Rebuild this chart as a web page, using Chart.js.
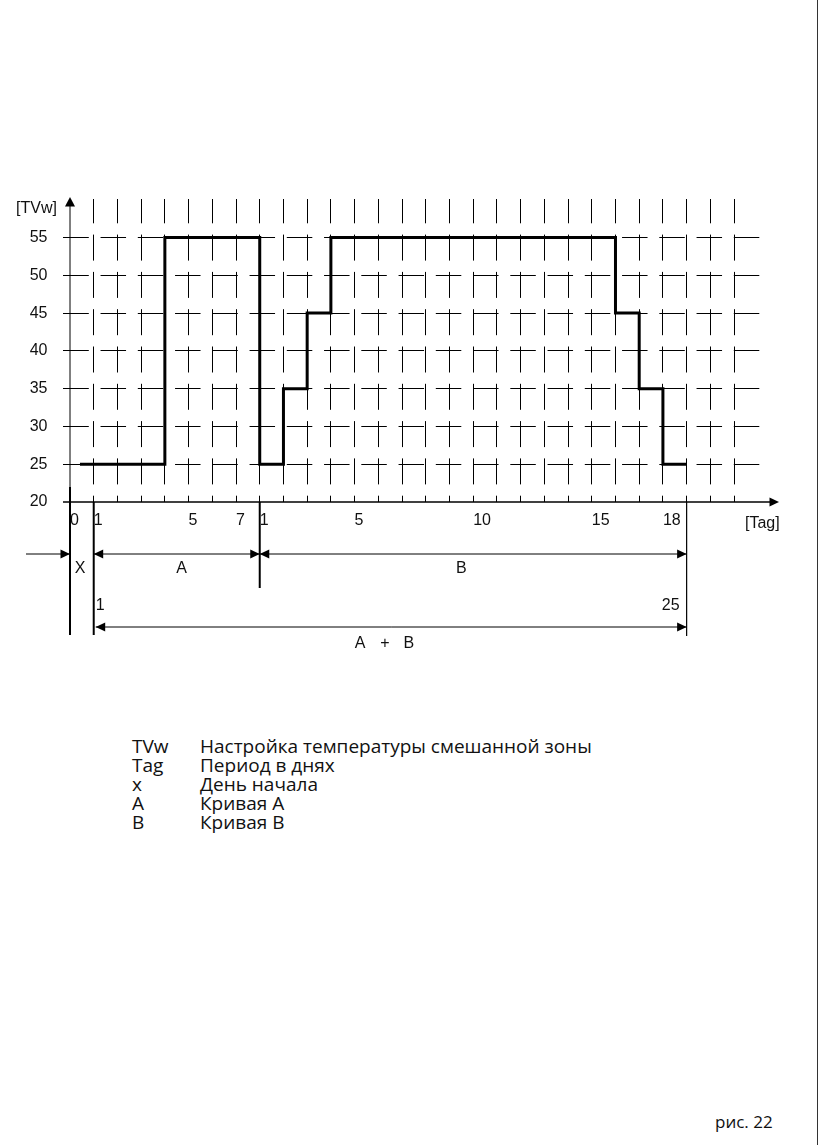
<!DOCTYPE html>
<html>
<head>
<meta charset="utf-8">
<title>рис. 22</title>
<script src="https://cdn.jsdelivr.net/npm/chart.js@4.4.1/dist/chart.umd.min.js"></script>
<style>
  html, body { margin: 0; padding: 0; background: #fff; }
  #page { position: relative; width: 824px; height: 1147px; overflow: hidden; }
  #chartBox { position: absolute; left: 0; top: 0; width: 824px; height: 700px; }
  #frame { position: absolute; left: 817px; top: 0; width: 0; height: 1145px; border-left: 1.5px solid #333; }
  #legend { position: absolute; left: 132px; top: 737px; font-family: "Open Sans", sans-serif; font-size: 19px; line-height: 19px; color: #111; }
  #legend .k { display: inline-block; width: 68px; }
  #caption { position: absolute; left: 715px; top: 1111px; font-family: "Open Sans", sans-serif; font-size: 17px; line-height: 22px; color: #111; }
</style>
</head>
<body>
<div id="page">
  <div id="chartBox"><canvas id="terChart"></canvas></div>
  <div id="frame"></div>
  <div id="legend">
    <div><span class="k">TVw</span>Настройка температуры смешанной зоны</div>
    <div><span class="k">Tag</span>Период в днях</div>
    <div><span class="k">x</span>День начала</div>
    <div><span class="k">A</span>Кривая A</div>
    <div><span class="k">B</span>Кривая B</div>
  </div>
  <div id="caption">рис. 22</div>
</div>
<script>
/* ====== DATA ====== */
const yTicks = [20, 25, 30, 35, 40, 45, 50, 55];
const tickDays = [0, 1, 5, 7, 8, 12, 17, 22, 25];
const tickLabels = ["0", "1", "5", "7", "1", "5", "10", "15", "18"];
const gridDays = 28;                       // vertical grid lines at day 1..28
const changeDays = [0.42, 4, 8, 9, 10, 11, 23, 24, 25, 26];
const tempValues = [25, 55, 25, 35, 45, 55, 45, 35, 25, 25];
const markerDays = [0, 1, 8, 26];          // start / A|B / end boundaries

const FONT = "'Liberation Sans', Arial, sans-serif";
Chart.defaults.font.family = FONT;
Chart.defaults.color = "#111";

/* ====== HELPERS ====== */
function seg(ctx, x1, y1, x2, y2, w) {
    ctx.lineWidth = w;
    ctx.beginPath();
    ctx.moveTo(x1, y1);
    ctx.lineTo(x2, y2);
    ctx.stroke();
}
function head(ctx, tx, ty, dir) {
    // dir: "r", "l", "u"
    var L = 9.5, H = 4.5;
    ctx.beginPath();
    ctx.moveTo(tx, ty);
    if (dir === "r") { ctx.lineTo(tx - L, ty - H); ctx.lineTo(tx - L, ty + H); }
    if (dir === "l") { ctx.lineTo(tx + L, ty - H); ctx.lineTo(tx + L, ty + H); }
    if (dir === "u") { ctx.lineTo(tx - H - 0.5, ty + L); ctx.lineTo(tx + H + 0.5, ty + L); }
    ctx.closePath();
    ctx.fill();
}
function dim(ctx, xa, xb, y) {
    seg(ctx, xa, y, xb, y, 1);
    head(ctx, xa, y, "l");
    head(ctx, xb, y, "r");
}

/* ====== DECORATION: axes, arrows, period marks ====== */
const decor = {
    id: "decor",
    afterDraw: function (chart) {
        var ctx = chart.ctx, a = chart.chartArea;
        var x = chart.scales.x, y = chart.scales.y;
        var px = function (d) { return x.getPixelForValue(d); };
        var x0 = px(0), yb = y.getPixelForValue(20);
        ctx.save();
        ctx.strokeStyle = "#000";
        ctx.fillStyle = "#000";

        // y axis with arrow
        seg(ctx, x0, a.top + 6, x0, yb, 1);
        head(ctx, x0, a.top - 2, "u");
        // x axis with arrow
        seg(ctx, x0 - 7, yb, a.right + 8, yb, 1.5);
        head(ctx, a.right + 16, yb, "r");

        // boundary lines below the axis
        var tops = [yb - 15, yb, yb, yb];
        var bottoms = [yb + 133, yb + 133, yb + 86, yb + 134];
        var widths = [2, 2, 2, 1.2];
        markerDays.forEach(function (d, i) {
            seg(ctx, px(d), tops[i], px(d), bottoms[i], widths[i]);
        });

        // period arrows
        var r1 = yb + 52, r2 = yb + 125;
        seg(ctx, x0 - 44, r1, x0, r1, 1);
        head(ctx, x0, r1, "r");
        dim(ctx, px(1), px(8), r1);
        dim(ctx, px(8), px(26), r1);
        dim(ctx, px(1) + 2, px(26), r2);

        // texts
        ctx.font = "16px " + FONT;
        ctx.fillStyle = "#111";
        ctx.textBaseline = "middle";
        ctx.textAlign = "center";
        ctx.fillText("X", px(0.42), r1 + 15);
        ctx.fillText("A", px(4.71), r1 + 15);
        ctx.fillText("B", px(16.5), r1 + 15);
        ctx.fillText("A", px(12.23), r2 + 17);
        ctx.fillText("+", px(13.28), r2 + 17);
        ctx.fillText("B", px(14.29), r2 + 17);
        ctx.textAlign = "left";
        ctx.fillText("1", px(1) + 2, r2 - 21);
        ctx.fillText("[Tag]", a.right - 18, yb + 22);
        ctx.textAlign = "right";
        ctx.fillText("25", px(26) - 7, r2 - 21);
        ctx.fillText("[TVw]", x0 - 13, a.top + 10);
        ctx.restore();
    }
};

/* ====== CHART ====== */
var gridCol = function (zeroVal) {
    return function (c) { return c.tick && c.tick.value === zeroVal ? "rgba(0,0,0,0)" : "#000"; };
};

new Chart(document.getElementById("terChart").getContext("2d"), {
    type: "line",
    data: {
        datasets: [{
            data: changeDays.map(function (d, i) { return { x: d, y: tempValues[i] }; }),
            borderColor: "#000",
            borderWidth: 3,
            stepped: "before",
            pointRadius: 0,
            fill: false,
            tension: 0,
            borderJoinStyle: "miter",
            borderCapStyle: "butt"
        }]
    },
    options: {
        responsive: true,
        maintainAspectRatio: false,
        animation: false,
        events: [],
        layout: { padding: { top: 199, left: 0, right: 61, bottom: 168 } },
        plugins: { legend: { display: false }, tooltip: { enabled: false } },
        scales: {
            x: {
                type: "linear", min: 0, max: 29.22,
                afterBuildTicks: function (s) {
                    var t = [];
                    for (var d = 0; d <= gridDays; d++) t.push({ value: d });
                    s.ticks = t;
                },
                afterFit: function (s) { s.height = 30; },
                border: { display: false, dash: [26, 11.3], dashOffset: 1.7 },
                grid: { color: gridCol(0), lineWidth: 1, drawTicks: false },
                ticks: {
                    autoSkip: false, maxRotation: 0, align: "start", padding: 9,
                    font: { size: 16 },
                    callback: function (v) {
                        var i = tickDays.indexOf(v);
                        return i < 0 ? "" : tickLabels[i];
                    }
                }
            },
            y: {
                type: "linear", min: 20, max: 60.1,
                afterBuildTicks: function (s) {
                    s.ticks = yTicks.map(function (v) { return { value: v }; });
                },
                afterFit: function (s) { s.width = 70; },
                border: { display: false, dash: [25.5, 11.75], dashOffset: 6.7 },
                grid: { color: gridCol(20), tickColor: gridCol(20), lineWidth: 1, tickLength: 7, drawTicks: true },
                ticks: { padding: 15.5, font: { size: 16 } }
            }
        }
    },
    plugins: [decor]
});
</script>
</body>
</html>
